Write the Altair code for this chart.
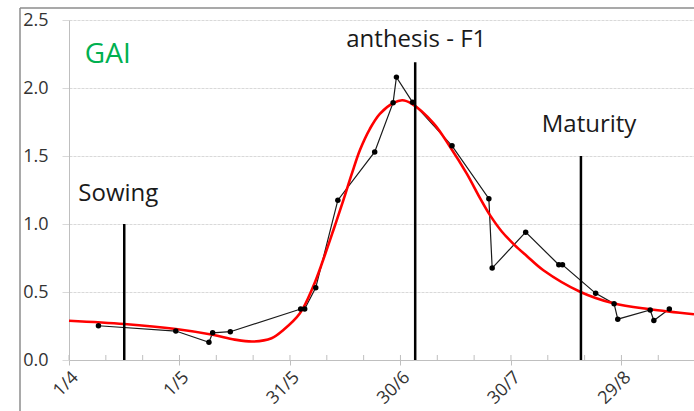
import altair as alt
import pandas as pd

# observed GAI (day of year, value), in drawing order
obs_day = [99, 120, 129, 130, 134.8, 153.9, 155, 158, 164, 174, 179, 179.9, 184.3,
           195, 205, 205.9, 215, 224, 225, 234, 239, 240, 248.8, 249.8, 254]
obs_gai = [0.252, 0.213, 0.13, 0.2, 0.208, 0.375, 0.375, 0.532, 1.175, 1.53, 1.892,
           2.08, 1.895, 1.575, 1.186, 0.676, 0.94, 0.70, 0.70, 0.49, 0.414, 0.30,
           0.368, 0.29, 0.375]

# fitted curve
fit_day = [91, 106, 120, 130, 136, 141, 146, 149.2, 153.7, 157.3, 160, 162.8, 165.5,
           167.8, 170, 172.7, 175.4, 179.1, 181.5, 184, 190, 194.4, 199, 202.6,
           205.3, 208.5, 212, 215.3, 219.8, 229.9, 238.8, 248.7, 260.7]
fit_gai = [0.289, 0.265, 0.228, 0.186, 0.150, 0.136, 0.16, 0.22, 0.343, 0.54, 0.735,
           0.956, 1.176, 1.37, 1.544, 1.70, 1.81, 1.89, 1.91, 1.885, 1.74, 1.57, 1.37,
           1.19, 1.065, 0.945, 0.845, 0.765, 0.66, 0.50, 0.417, 0.373, 0.336]

# crop stages
event_names = ["Sowing", "anthesis - F1", "Maturity"]
event_day = [106, 185, 230]
event_top = [1.0, 2.19, 1.5]
label_day = [104.4, 185.3, 232.2]
label_val = [1.171, 2.304, 1.676]

tick_days = [91, 121, 151, 181, 211, 241]
tick_labels = ["1/4", "1/5", "31/5", "30/6", "30/7", "29/8"]
minor_days = [91, 101, 111, 121, 131, 141, 151, 161, 171, 181, 191, 201, 211, 221,
              231, 241, 251]
y_ticks = [0, 0.5, 1.0, 1.5, 2.0, 2.5]

FONT = "Open Sans"
W, H = 625, 340

obs = pd.DataFrame({"day": obs_day, "gai": obs_gai, "order": list(range(len(obs_day)))})
fit = pd.DataFrame({"day": fit_day, "gai": fit_gai})
ev = pd.DataFrame({"name": event_names, "day": event_day, "top": event_top,
                   "bottom": [0] * 3, "lday": label_day, "lval": label_val})
minor = pd.DataFrame({"day": minor_days})

label_expr = ""
for d, l in zip(tick_days, tick_labels):
    label_expr += f"datum.value == {d} ? '{l}' : "
label_expr += "''"

xscale = alt.Scale(domain=[91, 260.7], nice=False, zero=False)
yscale = alt.Scale(domain=[0, 2.5], nice=False)

xaxis = alt.Axis(values=tick_days, labelExpr=label_expr, labelAngle=-45,
                 labelFontSize=18, labelFont=FONT, labelColor="#333333",
                 tickSize=5, tickColor="#bfbfbf", domainColor="#bfbfbf",
                 grid=False, title=None, labelPadding=3)
yaxis = alt.Axis(values=y_ticks, format=".1f", labelFontSize=18, labelFont=FONT,
                 labelColor="#333333", grid=True, gridColor="#d9d9d9",
                 gridDash=[3, 1], tickSize=7, tickColor="#d9d9d9",
                 domainColor="#bfbfbf", labelPadding=14, title=None)

obs_line = alt.Chart(obs).mark_line(color="#1a1a1a", strokeWidth=1.2).encode(
    x=alt.X("day:Q", scale=xscale, axis=xaxis),
    y=alt.Y("gai:Q", scale=yscale, axis=yaxis),
    order="order:Q",
)
fit_line = alt.Chart(fit).mark_line(color="#ff0000", strokeWidth=2.6,
                                    interpolate="catmull-rom").encode(
    x="day:Q", y="gai:Q")
obs_pts = alt.Chart(obs).mark_circle(color="#000000", size=30, opacity=1).encode(
    x="day:Q", y="gai:Q")

ev_rules = alt.Chart(ev).mark_rule(color="#000000", strokeWidth=2.5).encode(
    x="day:Q", y="bottom:Q", y2="top:Q")
ev_text = alt.Chart(ev).mark_text(font=FONT, fontSize=24, color="#1a1a1a",
                                  align="center", baseline="alphabetic").encode(
    x="lday:Q", y="lval:Q", text="name:N")

gai_text = alt.Chart(pd.DataFrame({"t": ["GAI"], "d": [95.3], "v": [2.184]})).mark_text(
    font=FONT, fontSize=28, color="#00b050", align="left", baseline="alphabetic"
).encode(x="d:Q", y="v:Q", text="t:N")

minor_ticks = alt.Chart(minor).mark_rule(color="#bfbfbf", strokeWidth=1).encode(
    x="day:Q", y=alt.value(H - 5), y2=alt.value(H))

one = alt.Data(values=[{"a": 1}])
frame_v = alt.Chart(one).mark_rule(color="#8c8c8c", strokeWidth=1.5).encode(
    x=alt.value(-49), y=alt.value(-12), y2=alt.value(H + 60))
frame_h = alt.Chart(one).mark_rule(color="#8c8c8c", strokeWidth=1.5).encode(
    y=alt.value(-12), x=alt.value(-49), x2=alt.value(W + 20))

chart = alt.layer(
    obs_line, minor_ticks, fit_line, obs_pts, ev_rules, ev_text, gai_text,
    frame_v, frame_h
).properties(
    width=W, height=H,
    autosize=alt.AutoSizeParams(type="none"),
    padding={"left": 69, "top": 20, "right": 0, "bottom": 51},
    background="#ffffff",
).configure_view(stroke=None)

chart.save("out.html", embed_options={"renderer": "svg", "actions": False})
